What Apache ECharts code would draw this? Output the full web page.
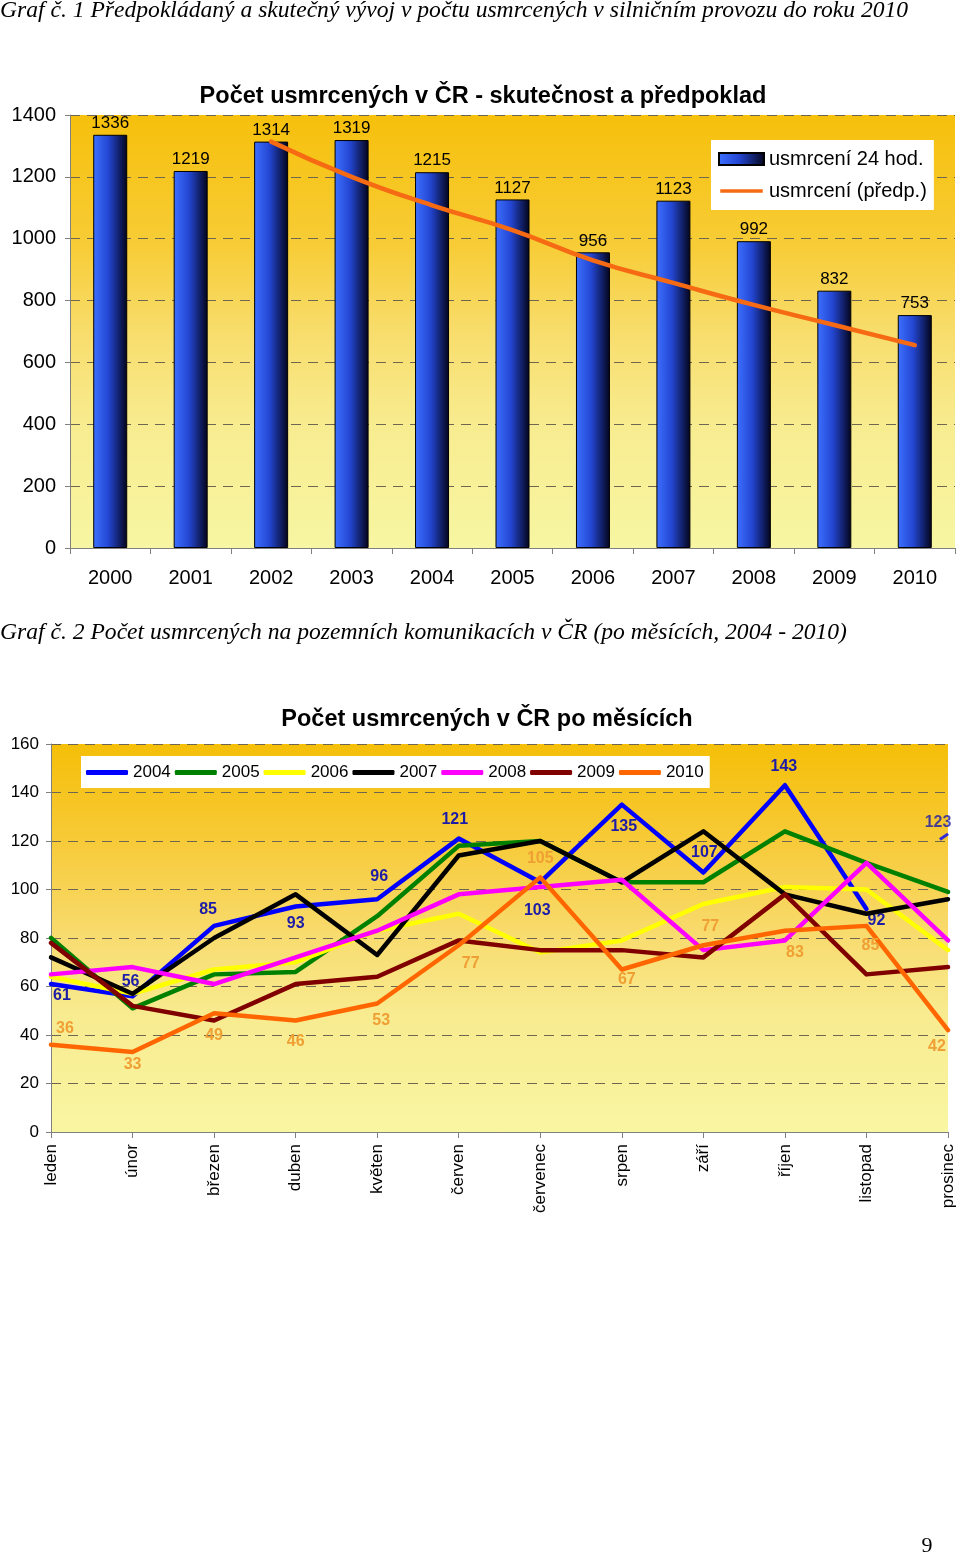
<!DOCTYPE html>
<html><head><meta charset="utf-8">
<script src="https://cdn.jsdelivr.net/npm/echarts@6/dist/echarts.min.js"></script>
<style>html,body{margin:0;padding:0;background:#fff}#c{width:960px;height:1557px}</style>
</head><body><div id="c"></div>
<script>
// ---- data chart 1 ----
const years = ['2000','2001','2002','2003','2004','2005','2006','2007','2008','2009','2010'];
const killed24h = [1336,1219,1314,1319,1215,1127,956,1123,992,832,753];
const predicted = [null,null,1314,1200,1108,1028,930,857,786,721,656];
const yTicks1 = [0,200,400,600,800,1000,1200,1400];
// ---- data chart 2 ----
const months = ['leden','únor','březen','duben','květen','červen','červenec','srpen','září','říjen','listopad','prosinec'];
const m2004 = [61,56,85,93,96,121,103,135,107,143,92,123];
const m2005 = [80,51,65,66,89,118,120,103,103,124,111,99];
const m2006 = [64,57,67,70,83,90,74,79,94,101,100,75];
const m2007 = [72,57,80,98,73,114,120,103,124,98,90,96];
const m2008 = [65,68,61,72,83,98,101,104,75,79,111,79];
const m2009 = [78,52,46,61,64,79,75,75,72,98,65,68];
const m2010 = [36,33,49,46,53,77,105,67,77,83,85,42];
const seriesNames2 = ['2004','2005','2006','2007','2008','2009','2010'];

// ---- styling ----
const FF = 'Liberation Sans, Arial, sans-serif';
const colors2 = ['#0000ff','#008000','#ffff00','#000000','#ff00ff','#800000','#ff6600'];
const off2004 = [[11,12],[-2,-15],[-6,-16],[0,17],[2,-23],[-4,-19],[-3,28],[2,22],[1,-20],[-1,-19],[10,12],[-6,-14]];
const off2010 = [[14,-16],[0,13],[0,22],[0,21],[4,17],[12,18],[0,-19],[5,10],[7,-19],[10,22],[4,20],[-11,16]];

const bg1 = {type:'linear',x:0,y:0,x2:0,y2:1,colorStops:[
  {offset:0,color:'#f6c00c'},{offset:0.3,color:'#f7cc36'},{offset:0.5,color:'#f8dd6c'},
  {offset:0.72,color:'#f8ec90'},{offset:1,color:'#f7f6a2'}]};
const bg2 = {type:'linear',x:0,y:0,x2:0,y2:1,colorStops:[
  {offset:0,color:'#f5bf08'},{offset:0.25,color:'#f7ca38'},{offset:0.5,color:'#f8dc70'},
  {offset:0.7,color:'#f8eb90'},{offset:1,color:'#f9f6a2'}]};
const barGrad = {type:'linear',x:0,y:0,x2:1,y2:0,colorStops:[
  {offset:0,color:'#3d70ff'},{offset:0.45,color:'#2346d2'},{offset:1,color:'#04041a'}]};
const lineIcon = 'path://M0,0 M0,4.5 L46,4.5 L46,8.5 L0,8.5 Z M46,13';

const chart = echarts.init(document.getElementById('c'), null, {renderer:'canvas'});

const lineSeries = [m2004,m2005,m2006,m2007,m2008,m2009,m2010].map((arr,si)=>{
  const name = seriesNames2[si];
  let data;
  if (si === 0) {
    data = arr.map((v,i)=> i < 11 ? {value:v, label:{offset:off2004[i]}} : '-');
  } else if (si === 6) {
    data = arr.map((v,i)=> ({value:v, label:{offset:off2010[i]}}));
  } else {
    data = arr.slice();
  }
  const labelled = (si === 0 || si === 6);
  return {
    type:'line', name, xAxisIndex:1, yAxisIndex:1, data,
    symbol:'circle', symbolSize:1, showSymbol:true,
    lineStyle:{color:colors2[si], width:4.5, cap:'round', join:'round'},
    itemStyle:{color:colors2[si]},
    z: 2 + si,
    label: labelled ? {show:true, position:'inside', fontFamily:FF, fontWeight:'bold', fontSize:16,
      color: si===0 ? '#1c1ca8' : '#ef9f33'} : {show:false},
    emphasis:{disabled:true}, animation:false
  };
});
// December 2004 point (only a short stub is visible in the original)
lineSeries.push({
  type:'scatter', name:'2004 prosinec', xAxisIndex:1, yAxisIndex:1,
  data: months.map((m,i)=> i===11 ? {value:m2004[i], label:{offset:off2004[i]}} : '-'),
  symbol:'rect', symbolSize:[10,3], symbolRotate:35, symbolOffset:[-4,3],
  itemStyle:{color:'#0000ff'}, z:20,
  label:{show:true, position:'inside', formatter:'{c}', fontFamily:FF, fontWeight:'bold', fontSize:16, color:'#1c1ca8'},
  emphasis:{disabled:true}, animation:false
});

const option = {
  animation:false,
  textStyle:{fontFamily:FF},
  graphic:[
    {type:'text', left:0, top:-1, style:{text:'Graf č. 1 Předpokládaný a skutečný vývoj v počtu usmrcených v silničním provozu do roku 2010',
      font:'italic 23.6px "Liberation Serif", "Times New Roman", serif', fill:'#000'}},
    {type:'text', left:0, top:621, style:{text:'Graf č. 2 Počet usmrcených na pozemních komunikacích v ČR (po měsících, 2004 - 2010)',
      font:'italic 23.6px "Liberation Serif", "Times New Roman", serif', fill:'#000'}},
    {type:'text', x:483, y:97, style:{text:'Počet usmrcených v ČR - skutečnost a předpoklad', textAlign:'center', textVerticalAlign:'middle',
      font:'bold 23.5px "Liberation Sans", Arial, sans-serif', fill:'#000'}},
    {type:'text', x:487, y:720, style:{text:'Počet usmrcených v ČR po měsících', textAlign:'center', textVerticalAlign:'middle',
      font:'bold 23.5px "Liberation Sans", Arial, sans-serif', fill:'#000'}},
    {type:'text', x:927, y:1546, style:{text:'9', textAlign:'center', textVerticalAlign:'middle',
      font:'22px "Liberation Serif", "Times New Roman", serif', fill:'#000'}}
  ],
  grid:[
    {left:70, right:5, top:115, bottom:1557-548, show:true, borderWidth:0, backgroundColor:bg1, containLabel:false},
    {left:51, right:12, top:744, bottom:1557-1132, show:true, borderWidth:0, backgroundColor:bg2, containLabel:false}
  ],
  xAxis:[
    {type:'category', gridIndex:0, data:years, boundaryGap:true,
      axisLine:{lineStyle:{color:'#808080'}}, axisTick:{show:true, length:6, interval:0, lineStyle:{color:'#808080'}},
      axisLabel:{fontSize:20, color:'#000', margin:20, interval:0}},
    {type:'category', gridIndex:1, data:months, boundaryGap:false,
      axisLine:{lineStyle:{color:'#808080'}}, axisTick:{show:true, length:6, interval:0, lineStyle:{color:'#808080'}},
      axisLabel:{fontSize:17, color:'#000', margin:12, rotate:90, interval:0}}
  ],
  yAxis:[
    {type:'value', gridIndex:0, min:yTicks1[0], max:yTicks1[yTicks1.length-1], interval:200,
      axisLine:{show:true, lineStyle:{color:'#808080'}}, axisTick:{show:true, length:5, lineStyle:{color:'#808080'}},
      axisLabel:{fontSize:20, color:'#000', margin:14, formatter:(v)=>String(v)},
      splitLine:{show:true, lineStyle:{color:'#6e6650', type:[10,7], width:1}}},
    {type:'value', gridIndex:1, min:0, max:160, interval:20,
      axisLine:{show:true, lineStyle:{color:'#808080'}}, axisTick:{show:true, length:5, lineStyle:{color:'#808080'}},
      axisLabel:{fontSize:17, color:'#000', margin:12, formatter:(v)=>String(v)},
      splitLine:{show:true, lineStyle:{color:'#6e6650', type:[10,7], width:1}}}
  ],
  legend:[
    {orient:'vertical', left:711, top:140, backgroundColor:'#fff', padding:[9,7,9,7], itemGap:12,
      itemWidth:45, itemHeight:12, textStyle:{fontSize:20, color:'#000', fontFamily:FF},
      data:[{name:'usmrcení 24 hod.', icon:'rect'}, {name:'usmrcení (předp.)', icon:lineIcon}], selectedMode:false},
    {orient:'horizontal', left:81, top:756, backgroundColor:'#fff', padding:[8,6,7,5], itemGap:4,
      itemWidth:42, itemHeight:5, textStyle:{fontSize:17, color:'#000', fontFamily:FF},
      data: seriesNames2.map(n=>({name:n, icon:'roundRect'})), selectedMode:false}
  ],
  series:[
    {type:'bar', name:'usmrcení 24 hod.', xAxisIndex:0, yAxisIndex:0, data:killed24h, barWidth:34,
      itemStyle:{color:barGrad, borderColor:'#000', borderWidth:1},
      label:{show:true, position:'top', distance:3, fontSize:17, color:'#000', fontFamily:FF},
      emphasis:{disabled:true}},
    {type:'line', name:'usmrcení (předp.)', xAxisIndex:0, yAxisIndex:0, data:predicted, smooth:true,
      symbol:'none', lineStyle:{color:'#f56a12', width:4.5, cap:'round'}, itemStyle:{color:'#f56a12'}, z:5,
      emphasis:{disabled:true}},
    ...lineSeries
  ]
};
chart.setOption(option);
</script></body></html>
